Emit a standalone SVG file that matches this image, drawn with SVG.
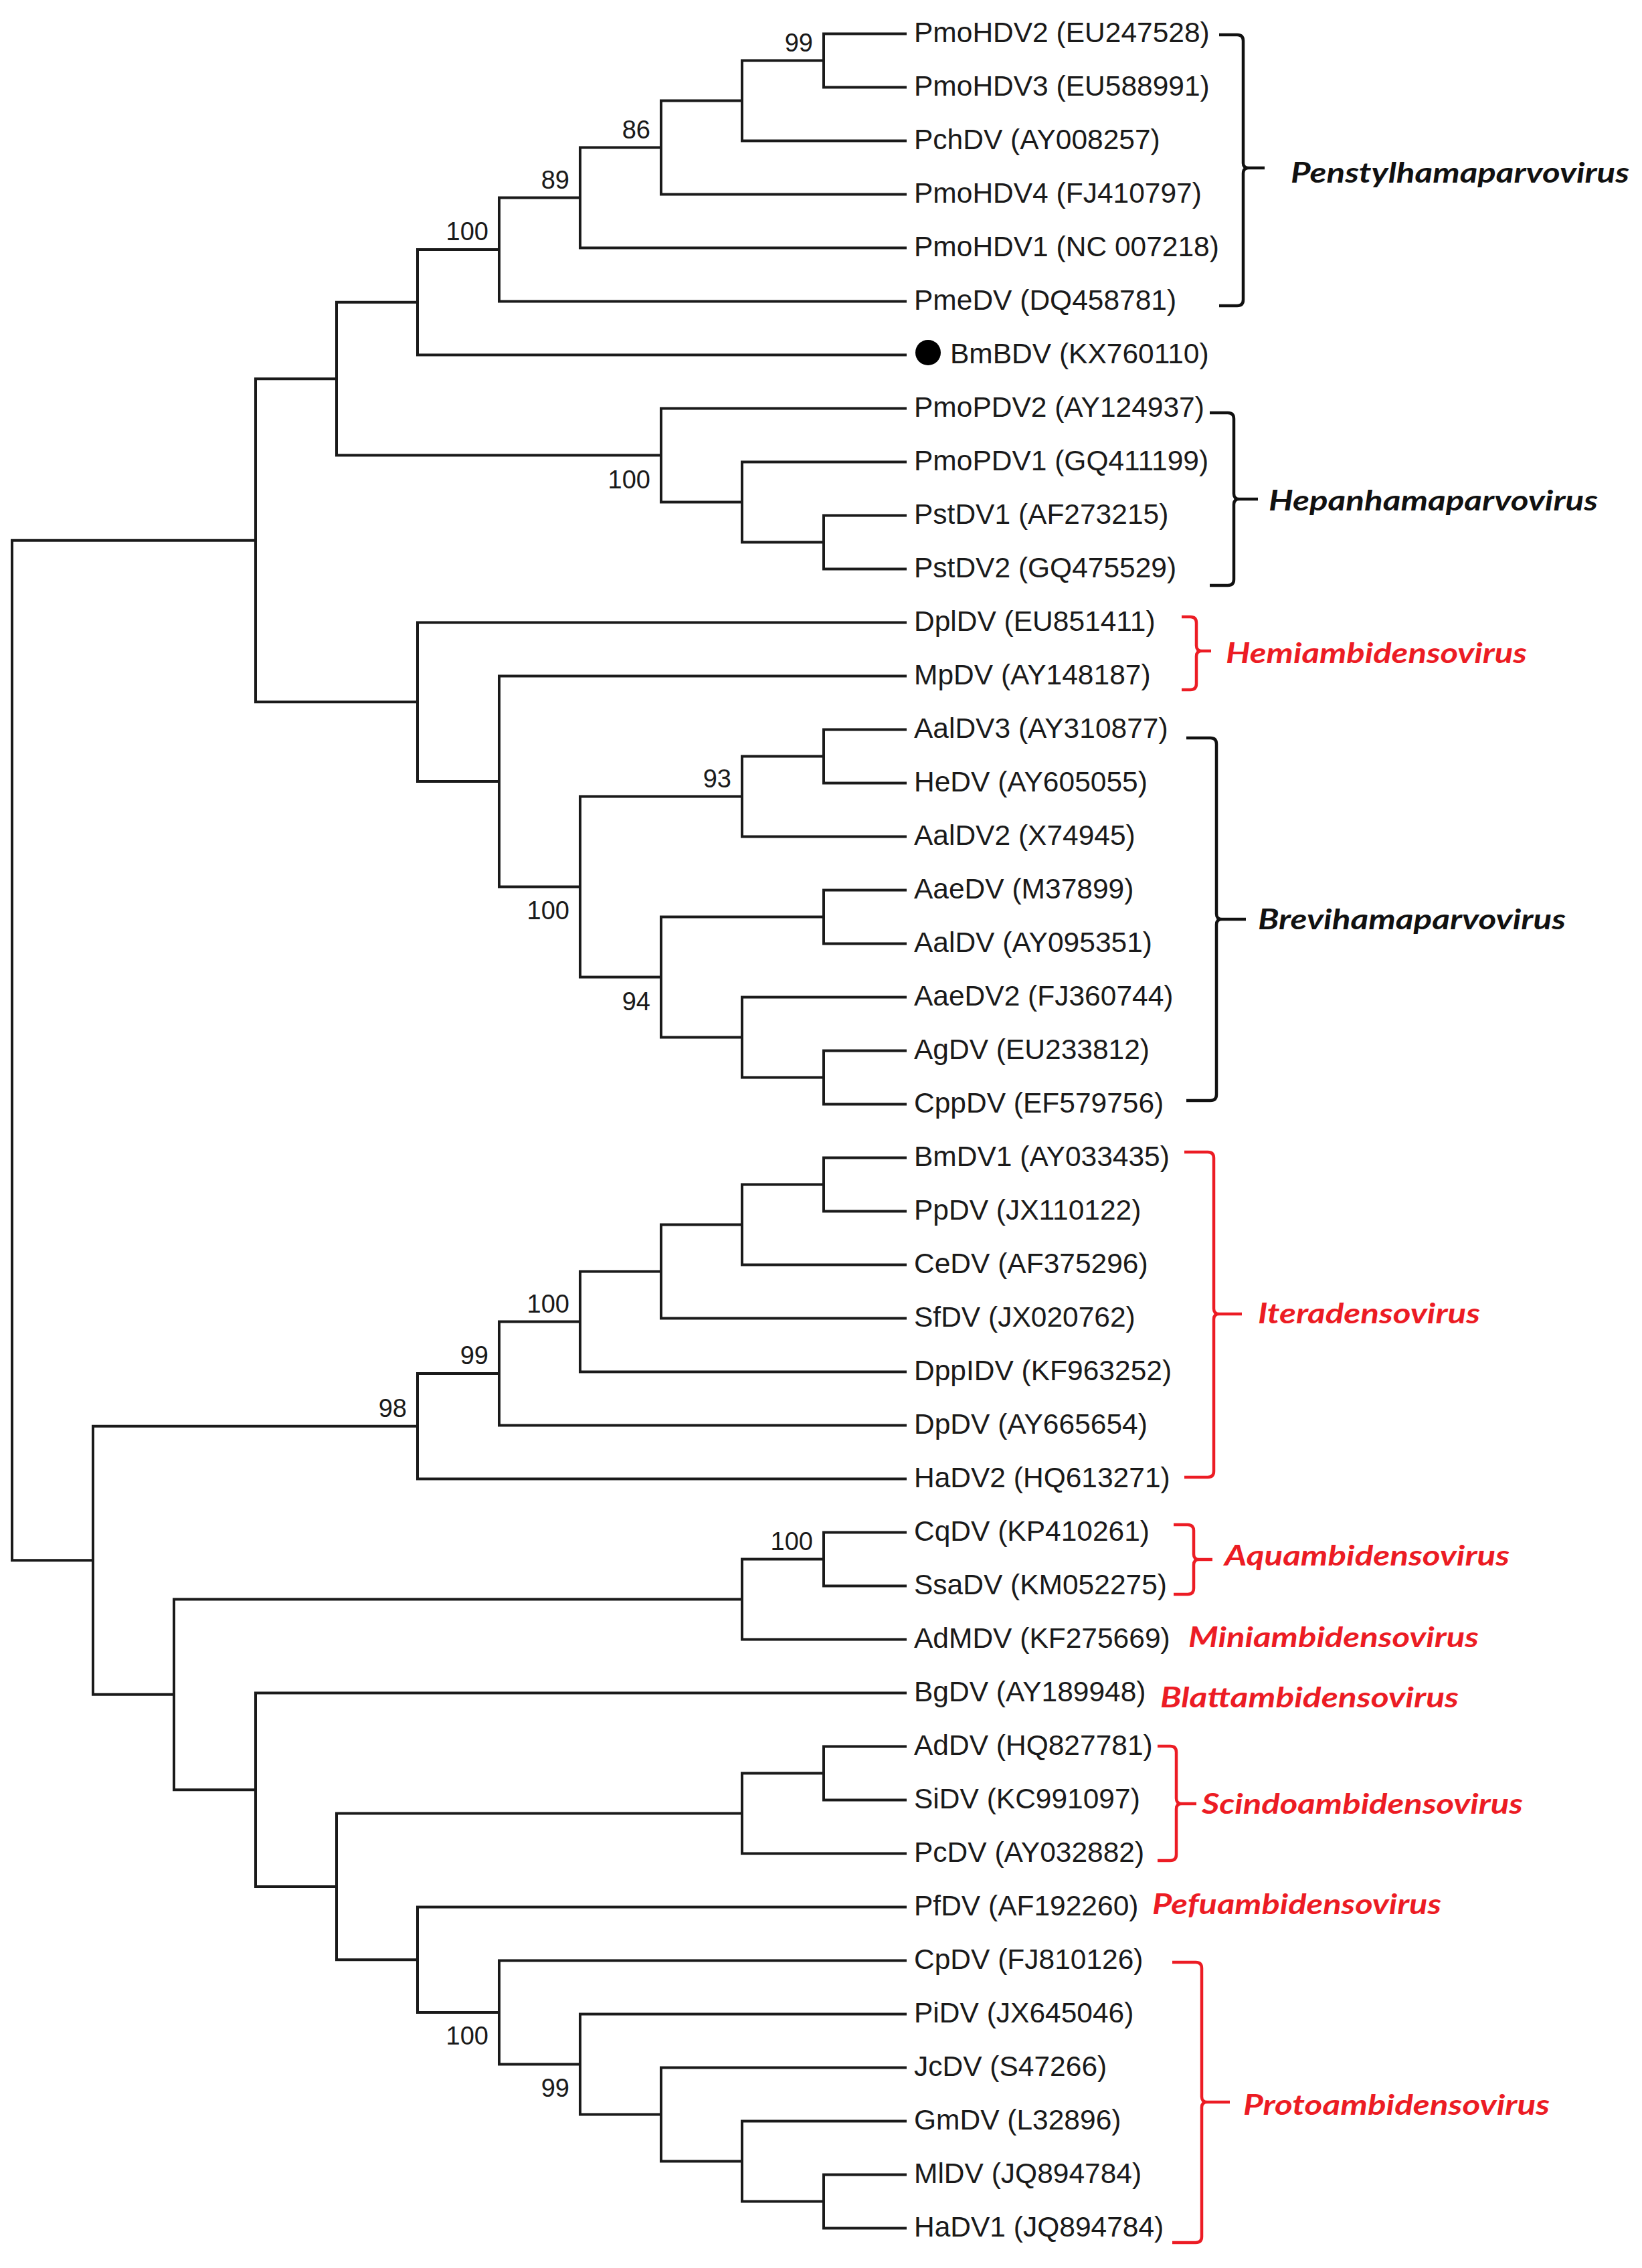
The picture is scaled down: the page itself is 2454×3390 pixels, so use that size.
<svg xmlns="http://www.w3.org/2000/svg" width="2454" height="3390" viewBox="0 0 2454 3390">
<style>
.e{fill:none;stroke:#1a1a1a;stroke-width:4;stroke-linecap:square}
.lf{font-family:"Liberation Sans",Arial,sans-serif;font-size:42.5px;fill:#1a1a1a}
.bs{font-family:"Liberation Sans",Arial,sans-serif;font-size:38px;fill:#1a1a1a;text-anchor:end}
.gk{font-family:Lato,"Liberation Sans",sans-serif;font-size:42px;font-weight:bold;font-style:italic;fill:#111}
.gr{font-family:Lato,"Liberation Sans",sans-serif;font-size:42px;font-weight:bold;font-style:italic;fill:#ec1c24}
.bk{fill:none;stroke:#111;stroke-width:4.5}
.br{fill:none;stroke:#ec1c24;stroke-width:4.5}
</style>
<rect width="2454" height="3390" fill="#fff"/>
<g id="connectors">
<path class="e" d="M18,807.69V2332.3 M18,807.69H382 M18,2332.3H139
M382,566.125V1049.25 M382,566.125H503 M382,1049.25H624
M503,451.75V680.5 M503,451.75H624 M503,680.5H988
M624,373V530.5 M624,373H746 M624,530.5H1353
M746,295.5V450.5 M746,295.5H867 M746,450.5H1353
M867,220.5V370.5 M867,220.5H988 M867,370.5H1353
M988,150.5V290.5 M988,150.5H1109 M988,290.5H1353
M1109,90.5V210.5 M1109,90.5H1231 M1109,210.5H1353
M1231,50.5V130.5 M1231,50.5H1353 M1231,130.5H1353
M988,610.5V750.5 M988,610.5H1353 M988,750.5H1109
M1109,690.5V810.5 M1109,690.5H1353 M1109,810.5H1231
M1231,770.5V850.5 M1231,770.5H1353 M1231,850.5H1353
M624,930.5V1168 M624,930.5H1353 M624,1168H746
M746,1010.5V1325.5 M746,1010.5H1353 M746,1325.5H867
M867,1190.5V1460.5 M867,1190.5H1109 M867,1460.5H988
M1109,1130.5V1250.5 M1109,1130.5H1231 M1109,1250.5H1353
M1231,1090.5V1170.5 M1231,1090.5H1353 M1231,1170.5H1353
M988,1370.5V1550.5 M988,1370.5H1231 M988,1550.5H1109
M1231,1330.5V1410.5 M1231,1330.5H1353 M1231,1410.5H1353
M1109,1490.5V1610.5 M1109,1490.5H1353 M1109,1610.5H1231
M1231,1570.5V1650.5 M1231,1570.5H1353 M1231,1650.5H1353
M139,2131.75V2532.84 M139,2131.75H624 M139,2532.84H260
M624,2053V2210.5 M624,2053H746 M624,2210.5H1353
M746,1975.5V2130.5 M746,1975.5H867 M746,2130.5H1353
M867,1900.5V2050.5 M867,1900.5H988 M867,2050.5H1353
M988,1830.5V1970.5 M988,1830.5H1109 M988,1970.5H1353
M1109,1770.5V1890.5 M1109,1770.5H1231 M1109,1890.5H1353
M1231,1730.5V1810.5 M1231,1730.5H1353 M1231,1810.5H1353
M260,2390.5V2675.19 M260,2390.5H1109 M260,2675.19H382
M1109,2330.5V2450.5 M1109,2330.5H1231 M1109,2450.5H1353
M1231,2290.5V2370.5 M1231,2290.5H1353 M1231,2370.5H1353
M382,2530.5V2819.875 M382,2530.5H1353 M382,2819.875H503
M503,2710.5V2929.25 M503,2710.5H1109 M503,2929.25H624
M1109,2650.5V2770.5 M1109,2650.5H1231 M1109,2770.5H1353
M1231,2610.5V2690.5 M1231,2610.5H1353 M1231,2690.5H1353
M624,2850.5V3008 M624,2850.5H1353 M624,3008H746
M746,2930.5V3085.5 M746,2930.5H1353 M746,3085.5H867
M867,3010.5V3160.5 M867,3010.5H1353 M867,3160.5H988
M988,3090.5V3230.5 M988,3090.5H1353 M988,3230.5H1109
M1109,3170.5V3290.5 M1109,3170.5H1353 M1109,3290.5H1231
M1231,3250.5V3330.5 M1231,3250.5H1353 M1231,3330.5H1353"/>
</g>
<g id="bootstrap">
<text class="bs" x="1215" y="76.5">99</text>
<text class="bs" x="972" y="206.5">86</text>
<text class="bs" x="851" y="281.5">89</text>
<text class="bs" x="730" y="359">100</text>
<text class="bs" x="972" y="729.5">100</text>
<text class="bs" x="1093" y="1176.5">93</text>
<text class="bs" x="851" y="1373.5">100</text>
<text class="bs" x="972" y="1509.5">94</text>
<text class="bs" x="608" y="2117.5">98</text>
<text class="bs" x="730" y="2039">99</text>
<text class="bs" x="851" y="1961.5">100</text>
<text class="bs" x="1215" y="2316.5">100</text>
<text class="bs" x="730" y="3056">100</text>
<text class="bs" x="851" y="3133.5">99</text>
</g>
<g id="leaves">
<g id="n1"><text class="lf" x="1366" y="62.5">PmoHDV2 (EU247528)</text></g>
<g id="n2"><text class="lf" x="1366" y="142.5">PmoHDV3 (EU588991)</text></g>
<g id="n3"><text class="lf" x="1366" y="222.5">PchDV (AY008257)</text></g>
<g id="n4"><text class="lf" x="1366" y="302.5">PmoHDV4 (FJ410797)</text></g>
<g id="n5"><text class="lf" x="1366" y="382.5">PmoHDV1 (NC 007218)</text></g>
<g id="n6"><text class="lf" x="1366" y="462.5">PmeDV (DQ458781)</text></g>
<g id="n7"><circle cx="1387" cy="527" r="19" fill="#000"/><text class="lf" x="1420" y="542.5">BmBDV (KX760110)</text></g>
<g id="n8"><text class="lf" x="1366" y="622.5">PmoPDV2 (AY124937)</text></g>
<g id="n9"><text class="lf" x="1366" y="702.5">PmoPDV1 (GQ411199)</text></g>
<g id="n10"><text class="lf" x="1366" y="782.5">PstDV1 (AF273215)</text></g>
<g id="n11"><text class="lf" x="1366" y="862.5">PstDV2 (GQ475529)</text></g>
<g id="n12"><text class="lf" x="1366" y="942.5">DplDV (EU851411)</text></g>
<g id="n13"><text class="lf" x="1366" y="1022.5">MpDV (AY148187)</text></g>
<g id="n14"><text class="lf" x="1366" y="1102.5">AalDV3 (AY310877)</text></g>
<g id="n15"><text class="lf" x="1366" y="1182.5">HeDV (AY605055)</text></g>
<g id="n16"><text class="lf" x="1366" y="1262.5">AalDV2 (X74945)</text></g>
<g id="n17"><text class="lf" x="1366" y="1342.5">AaeDV (M37899)</text></g>
<g id="n18"><text class="lf" x="1366" y="1422.5">AalDV (AY095351)</text></g>
<g id="n19"><text class="lf" x="1366" y="1502.5">AaeDV2 (FJ360744)</text></g>
<g id="n20"><text class="lf" x="1366" y="1582.5">AgDV (EU233812)</text></g>
<g id="n21"><text class="lf" x="1366" y="1662.5">CppDV (EF579756)</text></g>
<g id="n22"><text class="lf" x="1366" y="1742.5">BmDV1 (AY033435)</text></g>
<g id="n23"><text class="lf" x="1366" y="1822.5">PpDV (JX110122)</text></g>
<g id="n24"><text class="lf" x="1366" y="1902.5">CeDV (AF375296)</text></g>
<g id="n25"><text class="lf" x="1366" y="1982.5">SfDV (JX020762)</text></g>
<g id="n26"><text class="lf" x="1366" y="2062.5">DppIDV (KF963252)</text></g>
<g id="n27"><text class="lf" x="1366" y="2142.5">DpDV (AY665654)</text></g>
<g id="n28"><text class="lf" x="1366" y="2222.5">HaDV2 (HQ613271)</text></g>
<g id="n29"><text class="lf" x="1366" y="2302.5">CqDV (KP410261)</text></g>
<g id="n30"><text class="lf" x="1366" y="2382.5">SsaDV (KM052275)</text></g>
<g id="n31"><text class="lf" x="1366" y="2462.5">AdMDV (KF275669)</text></g>
<g id="n32"><text class="lf" x="1366" y="2542.5">BgDV (AY189948)</text></g>
<g id="n33"><text class="lf" x="1366" y="2622.5">AdDV (HQ827781)</text></g>
<g id="n34"><text class="lf" x="1366" y="2702.5">SiDV (KC991097)</text></g>
<g id="n35"><text class="lf" x="1366" y="2782.5">PcDV (AY032882)</text></g>
<g id="n36"><text class="lf" x="1366" y="2862.5">PfDV (AF192260)</text></g>
<g id="n37"><text class="lf" x="1366" y="2942.5">CpDV (FJ810126)</text></g>
<g id="n38"><text class="lf" x="1366" y="3022.5">PiDV (JX645046)</text></g>
<g id="n39"><text class="lf" x="1366" y="3102.5">JcDV (S47266)</text></g>
<g id="n40"><text class="lf" x="1366" y="3182.5">GmDV (L32896)</text></g>
<g id="n41"><text class="lf" x="1366" y="3262.5">MlDV (JQ894784)</text></g>
<g id="n42"><text class="lf" x="1366" y="3342.5">HaDV1 (JQ894784)</text></g>
</g>
<g id="genera">
<g id="g-penstyl">
<path class="bk" d="M1822,52H1849Q1858,52 1858,61V244Q1858,251 1866,251H1890M1866,251Q1858,251 1858,259V448Q1858,457 1849,457H1822"/>
<text class="gk" x="1929" y="273" textLength="506" lengthAdjust="spacingAndGlyphs">Penstylhamaparvovirus</text>
</g>
<g id="g-hepan">
<path class="bk" d="M1808,617H1835Q1844,617 1844,626V738Q1844,746 1852,746H1880M1852,746Q1844,746 1844,754V866Q1844,875 1835,875H1808"/>
<text class="gk" x="1896" y="763" textLength="492" lengthAdjust="spacingAndGlyphs">Hepanhamaparvovirus</text>
</g>
<g id="g-hemi">
<path class="br" d="M1766,922H1779Q1788,922 1788,931V965Q1788,973 1796,973H1810M1796,973Q1788,973 1788,981V1022Q1788,1031 1779,1031H1766"/>
<text class="gr" x="1832" y="991" textLength="450" lengthAdjust="spacingAndGlyphs">Hemiambidensovirus</text>
</g>
<g id="g-brevi">
<path class="bk" d="M1773,1103H1809Q1818,1103 1818,1112V1366Q1818,1374 1826,1374H1862M1826,1374Q1818,1374 1818,1382V1636Q1818,1645 1809,1645H1773"/>
<text class="gk" x="1880" y="1389" textLength="460" lengthAdjust="spacingAndGlyphs">Brevihamaparvovirus</text>
</g>
<g id="g-itera">
<path class="br" d="M1770,1722H1805Q1814,1722 1814,1731V1956Q1814,1964 1822,1964H1856M1822,1964Q1814,1964 1814,1972V2199Q1814,2208 1805,2208H1770"/>
<text class="gr" x="1880" y="1978" textLength="332" lengthAdjust="spacingAndGlyphs">Iteradensovirus</text>
</g>
<g id="g-aqua">
<path class="br" d="M1754,2279H1775Q1784,2279 1784,2288V2323Q1784,2331 1792,2331H1812M1792,2331Q1784,2331 1784,2339V2374Q1784,2383 1775,2383H1754"/>
<text class="gr" x="1830" y="2340" textLength="426" lengthAdjust="spacingAndGlyphs">Aquambidensovirus</text>
</g>
<g id="g-mini">
<text class="gr" x="1776" y="2462" textLength="434" lengthAdjust="spacingAndGlyphs">Miniambidensovirus</text>
</g>
<g id="g-blatt">
<text class="gr" x="1734" y="2552" textLength="446" lengthAdjust="spacingAndGlyphs">Blattambidensovirus</text>
</g>
<g id="g-scindo">
<path class="br" d="M1730,2610H1749Q1758,2610 1758,2619V2688Q1758,2696 1766,2696H1788M1766,2696Q1758,2696 1758,2704V2772Q1758,2781 1749,2781H1730"/>
<text class="gr" x="1796" y="2711" textLength="480" lengthAdjust="spacingAndGlyphs">Scindoambidensovirus</text>
</g>
<g id="g-pefu">
<text class="gr" x="1722" y="2861" textLength="432" lengthAdjust="spacingAndGlyphs">Pefuambidensovirus</text>
</g>
<g id="g-proto">
<path class="br" d="M1752,2933H1787Q1796,2933 1796,2942V3134Q1796,3142 1804,3142H1838M1804,3142Q1796,3142 1796,3150V3343Q1796,3352 1787,3352H1752"/>
<text class="gr" x="1858" y="3161" textLength="458" lengthAdjust="spacingAndGlyphs">Protoambidensovirus</text>
</g>
</g>
</svg>
